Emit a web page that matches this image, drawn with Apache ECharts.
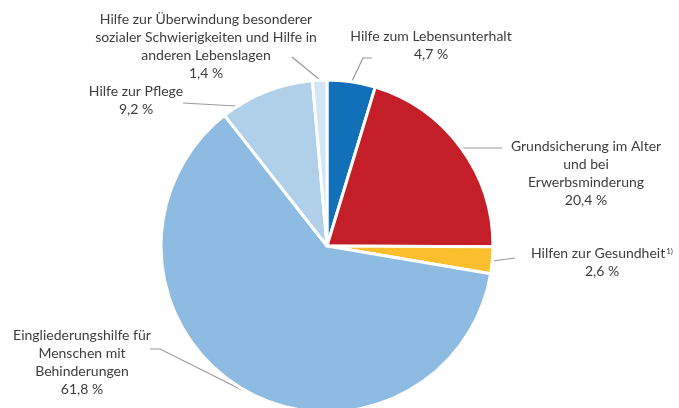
<!DOCTYPE html>
<html>
<head>
<meta charset="utf-8">
<script src="https://cdn.jsdelivr.net/npm/echarts@6/dist/echarts.min.js"></script>
<style>
html,body{margin:0;padding:0;background:#fff;}
#main{width:679px;height:408px;}
</style>
</head>
<body>
<div id="main"></div>
<script>
// Anteile (%)
var names = [
    "Hilfe zum Lebensunterhalt",
    "Grundsicherung im Alter\nund bei\nErwerbsminderung",
    "Hilfen zur Gesundheit{sup|1)}",
    "Eingliederungshilfe für\nMenschen mit\nBehinderungen",
    "Hilfe zur Pflege",
    "Hilfe zur Überwindung besonderer\nsozialer Schwierigkeiten und Hilfe in\nanderen Lebenslagen"
];
var values = [4.7, 20.4, 2.6, 61.8, 9.2, 1.4];
var valueText = ["4,7 %", "20,4 %", "2,6 %", "61,8 %", "9,2 %", "1,4 %"];
var colors = ["#1170b8", "#c41f28", "#fbbf2d", "#8dbbe1", "#b0d0ea", "#d4e5f3"];

// Position der Beschriftungen (Mitte des Textblocks)
var labelPos = [
    [431, 45],
    [586, 173],
    [602, 262],
    [82, 362],
    [136, 100],
    [206, 46]
];
// Verlauf der Hinweislinien
var linePts = [
    [[352, 81], [363, 58], [372, 58]],
    [[460, 148], [502, 148]],
    [[493, 261], [515, 258]],
    [[242, 390], [160, 349], [150, 349]],
    [[236, 106], [183, 103]],
    [[320, 80], [292, 57]]
];

var myChart = echarts.init(document.getElementById("main"));

var seriesData = [];
for (var i = 0; i < values.length; i++) {
    seriesData.push({
        name: names[i],
        value: values[i],
        itemStyle: {color: colors[i]},
        label: {formatter: names[i] + "\n" + valueText[i]}
    });
}

var option = {
    animation: false,
    series: [
        {
            type: "pie",
            center: [327, 246],
            radius: 166,
            startAngle: 90,
            clockwise: true,
            data: seriesData,
            itemStyle: {borderColor: "#fff", borderWidth: 3},
            label: {
                show: true,
                position: "outside",
                fontFamily: "Lato",
                fontSize: 14,
                lineHeight: 18,
                color: "#3d3d3d",
                align: "center",
                overflow: "none",
                rich: {
                    sup: {fontFamily: "Lato", fontSize: 8, lineHeight: 10, color: "#3d3d3d", verticalAlign: "top", padding: [3, 0, 0, 1]}
                }
            },
            labelLine: {
                show: true,
                lineStyle: {color: "#9a9a9a", width: 1.2}
            },
            labelLayout: function (params) {
                var p = labelPos[params.dataIndex];
                return {
                    x: p[0],
                    y: p[1],
                    align: "center",
                    verticalAlign: "middle",
                    hideOverlap: false,
                    moveOverlap: false,
                    labelLinePoints: linePts[params.dataIndex]
                };
            }
        }
    ]
};

myChart.setOption(option);
</script>
</body>
</html>
